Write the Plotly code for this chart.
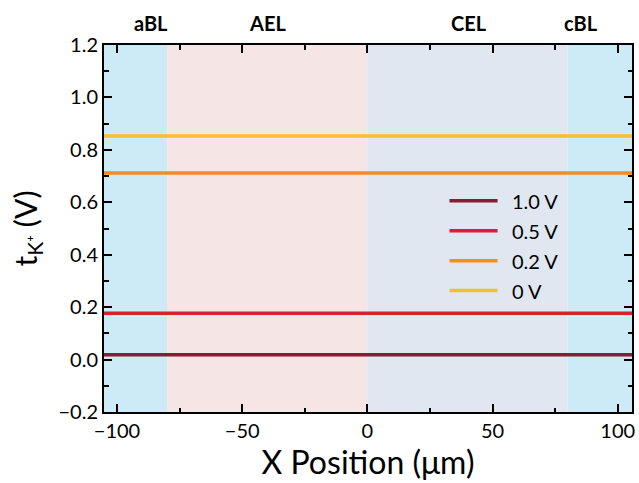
import plotly.graph_objects as go

# ---- data ----
x_um = [-105.2, 105.7]
series_names = ["1.0 V", "0.5 V", "0.2 V", "0 V"]
series_values = [0.018, 0.177, 0.712, 0.853]
series_colors = ["#8c1a30", "#d9202f", "#f48d1f", "#fbbd2f"]

region_names = ["aBL", "AEL", "CEL", "cBL"]
region_starts = [-105.2, -80, 0, 80]
region_ends = [-80, 0, 80, 105.7]
region_colors = ["#cdebf7", "#f6e5e5", "#e1e7f0", "#cdebf7"]
region_label_x = [-86.6, -39.8, 40.7, 85.5]

x_ticks = [-100, -50, 0, 50, 100]
y_ticks = [-0.2, 0.0, 0.2, 0.4, 0.6, 0.8, 1.0, 1.2]

FONT = "Lato"

fig = go.Figure()
for name, val, col in zip(series_names, series_values, series_colors):
    fig.add_trace(go.Scatter(
        x=x_um, y=[val] * len(x_um), mode="lines", name=name,
        line=dict(color=col, width=3.5), showlegend=False,
    ))

for x0, x1, col in zip(region_starts, region_ends, region_colors):
    fig.add_vrect(x0=x0, x1=x1, fillcolor=col, opacity=1, line_width=0, layer="below")

for name, xp in zip(region_names, region_label_x):
    fig.add_annotation(x=xp, y=1.0, xref="x", yref="paper", yshift=22,
                       text=f"<b>{name}</b>", showarrow=False, yanchor="middle",
                       font=dict(family=FONT, size=20, color="black"))

# custom legend (layout constants in data coordinates)
LEG_X0, LEG_X1, LEG_TX = 32.8, 52.0, 56.8
LEG_Y0, LEG_STEP = 0.606, 0.1143
for i, (name, col) in enumerate(zip(series_names, series_colors)):
    yy = LEG_Y0 - i * LEG_STEP
    fig.add_shape(type="line", x0=LEG_X0, x1=LEG_X1, y0=yy, y1=yy,
                  xref="x", yref="y", line=dict(color=col, width=3.5))
    fig.add_annotation(x=LEG_TX, y=yy, xref="x", yref="y", text=name,
                       showarrow=False, xanchor="left", yanchor="middle",
                       font=dict(family=FONT, size=20, color="black"))

axis_common = dict(
    showline=True, linecolor="black", linewidth=2, mirror="allticks",
    ticks="inside", ticklen=8, tickwidth=2, tickcolor="black",
    showgrid=False, zeroline=False, automargin=False,
    tickfont=dict(family=FONT, size=20, color="black"),
)

fig.update_xaxes(
    range=[-105.2, 105.7], tickvals=x_ticks, ticklabeloverflow="allow",
    minor=dict(ticks="inside", ticklen=4.5, tickwidth=1.5, tickcolor="black", dtick=25, tick0=0),
    title=dict(text="X Position (μm)", font=dict(family=FONT, size=32, color="black"), standoff=6),
    **axis_common,
)
fig.update_yaxes(
    range=[-0.2, 1.2], tickvals=y_ticks, tickformat=".1f",
    minor=dict(ticks="inside", ticklen=4.5, tickwidth=1.5, tickcolor="black", dtick=0.1, tick0=0),
    title=dict(text="t<sub>K⁺</sub> (V)", font=dict(family=FONT, size=30, color="black"), standoff=12),
    **axis_common,
)

fig.update_layout(
    width=639, height=483,
    margin=dict(l=104, r=7, t=45, b=71, autoexpand=False),
    plot_bgcolor="white", paper_bgcolor="white",
    font=dict(family=FONT, color="black"),
    showlegend=False,
)

fig.write_html("out.html", config={"displayModeBar": False},
               post_script="document.body.style.margin='0';document.body.style.overflow='hidden';")
